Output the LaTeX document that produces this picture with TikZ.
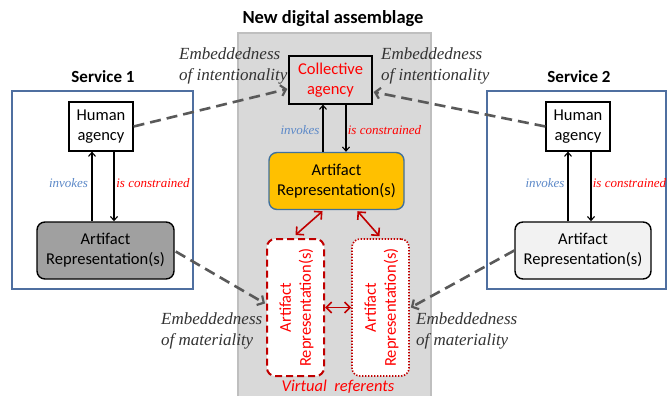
\documentclass[tikz,border=0pt]{standalone}
\usepackage{fontspec}
\setmainfont{Carlito}
\newfontfamily\tms{Liberation Serif}
\usetikzlibrary{arrows.meta,calc}
\definecolor{bgray}{HTML}{D9D9D9}
\definecolor{bgborder}{HTML}{BFBFBF}
\definecolor{svcblue}{HTML}{4F6FA0}
\definecolor{orangefill}{HTML}{FFC000}
\definecolor{orangeborder}{HTML}{41719C}
\definecolor{darkred}{HTML}{C00000}
\definecolor{brightred}{HTML}{FF0000}
\definecolor{invblue}{HTML}{5B88C8}
\definecolor{dashgray}{HTML}{595959}
\definecolor{labgray}{HTML}{333333}
\definecolor{art1fill}{HTML}{A0A0A0}
\definecolor{art2fill}{HTML}{F2F2F2}
\tikzset{
  txt/.style={font=\fontsize{16.5}{20}\selectfont, align=center, inner sep=0pt},
  humanbox/.style={txt, draw=black, line width=1.2pt, fill=white, minimum width=64pt, minimum height=49pt},
  collbox/.style={txt, draw=black, line width=1.2pt, minimum width=83pt, minimum height=48pt, text=brightred},
  artbox/.style={txt, draw=black, line width=1.4pt, rounded corners=8pt, minimum width=137pt, minimum height=57pt},
  orangebox/.style={txt, draw=orangeborder, line width=1.4pt, fill=orangefill, rounded corners=8pt, minimum width=135pt, minimum height=57pt},
  vbox/.style={draw=darkred, fill=white, rounded corners=8pt, minimum width=57pt, minimum height=137pt, inner sep=0pt},
  vtext/.style={txt, rotate=90, text=brightred},
  svcbox/.style={draw=svcblue, line width=1.5pt},
  svctitle/.style={font=\fontsize{17}{20}\selectfont\bfseries, inner sep=0pt},
  thin/.style={draw=black, line width=1.1pt, -{Straight Barb[length=4pt,width=7pt,line width=1.1pt]}},
  dasharrow/.style={draw=dashgray, line width=2.6pt, dash pattern=on 11pt off 6pt, -{Straight Barb[length=5pt,width=11pt,line width=2.2pt]}},
  redarrow/.style={draw=darkred, line width=1.6pt, {Straight Barb[length=5.5pt,width=11pt,line width=1.6pt]}-{Straight Barb[length=5.5pt,width=11pt,line width=1.6pt]}},
  invlab/.style={font=\tms\itshape\fontsize{13}{15}\selectfont, text=invblue, inner sep=0pt},
  conlab/.style={font=\tms\itshape\fontsize{13}{15}\selectfont, text=brightred, inner sep=0pt},
  emblab/.style={font=\tms\itshape\fontsize{17}{21}\selectfont, text=labgray, align=left, inner sep=0pt, anchor=west}
}
\begin{document}
\begin{tikzpicture}[x=1pt,y=-1pt]
\useasboundingbox (0,0) rectangle (667,396);
% background
\fill[white] (0,0) rectangle (667,396);
\draw[fill=bgray, draw=bgborder, line width=1.5pt] (238,33) rectangle (431,410);
\node[font=\fontsize{18.5}{22}\selectfont\bfseries, inner sep=0pt] (title) at (333,19) {New digital assemblage};

% service boxes
\draw[svcbox] (12,91) rectangle (193,289);
\draw[svcbox] (487,91) rectangle (666,289);
\node[svctitle] (s1) at (103,77) {Service 1};
\node[svctitle] (s2) at (579,77) {Service 2};

% nodes
\node[humanbox] (h1) at (101,126.5) {Human\\agency};
\node[artbox, fill=art1fill] (a1) at (105.5,250.5) {Artifact\\Representation(s)};
\node[humanbox] (h2) at (578,126.5) {Human\\agency};
\node[artbox, fill=art2fill, minimum width=136pt] (a2) at (583,250.5) {Artifact\\Representation(s)};
\node[collbox] (coll) at (330.5,80) {Collective\\agency};
\node[orangebox] (org) at (336.5,181) {Artifact\\Representation(s)};
\node[vbox, line width=2pt, dash pattern=on 7pt off 4pt] (v1) at (295.5,307.5) {};
\node[vbox, line width=1.6pt, dash pattern=on 1.4pt off 1.6pt] (v2) at (380.5,307.5) {};
\node[vtext] (v1t) at ([xshift=1pt]v1.center) {Artifact\\Representation(s)};
\node[vtext] (v2t) at ([xshift=1pt]v2.center) {Artifact\\Representation(s)};
\node[font=\fontsize{16.5}{20}\selectfont\itshape, text=brightred, inner sep=0pt] (vr) at (338,386.5) {Virtual\ \ referents};

% service 1 arrows
\draw[thin] ([xshift=-9pt]h1.south |- a1.north) -- ([xshift=-9pt]h1.south);
\draw[thin] ([xshift=13pt]h1.south) -- ([xshift=13pt]h1.south |- a1.north);
\node[invlab] (inv1) at (68.5,183) {invokes};
\node[conlab] (con1) at (153,183) {is constrained};

% service 2 arrows
\draw[thin] ([xshift=-10pt]h2.south |- a2.north) -- ([xshift=-10pt]h2.south);
\draw[thin] ([xshift=13pt]h2.south) -- ([xshift=13pt]h2.south |- a2.north);
\node[invlab] (inv2) at (545,183) {invokes};
\node[conlab] (con2) at (629.5,183) {is constrained};

% center arrows
\draw[thin] ([xshift=-7.5pt]coll.south |- org.north) -- ([xshift=-7.5pt]coll.south);
\draw[thin] ([xshift=15.5pt]coll.south) -- ([xshift=15.5pt]coll.south |- org.north);
\node[invlab] (inv3) at (300,130) {invokes};
\node[conlab] (con3) at (384.5,130) {is constrained};

% red double arrows
\draw[redarrow] ([xshift=-14pt,yshift=-1pt]org.south) -- ([yshift=3pt]v1.north);
\draw[redarrow] ([xshift=21pt,yshift=-1pt]org.south) -- ([xshift=-1pt,yshift=2pt]v2.north);
\draw[redarrow] (v1.east) -- (v2.west);

% dashed gray arrows
\draw[dasharrow] (h1.east) -- ([yshift=-9pt,xshift=-1pt]coll.west);
\draw[dasharrow] (h2.west) -- ([yshift=-12pt,xshift=1pt]coll.east);
\draw[dasharrow] ([yshift=-1pt,xshift=1pt]a1.east) -- ([yshift=4pt,xshift=-1pt]v1.west);
\draw[dasharrow] (a2.west) -- ([xshift=1pt]v2.east);

% embeddedness labels
\node[emblab] (e1) at (179,66) {Embeddedness\\of intentionality};
\node[emblab] (e2) at (381,66) {Embeddedness\\of intentionality};
\node[emblab] (e3) at (161,331) {Embeddedness\\of materiality};
\node[emblab] (e4) at (416,331) {Embeddedness\\of materiality};
\end{tikzpicture}
\end{document}
